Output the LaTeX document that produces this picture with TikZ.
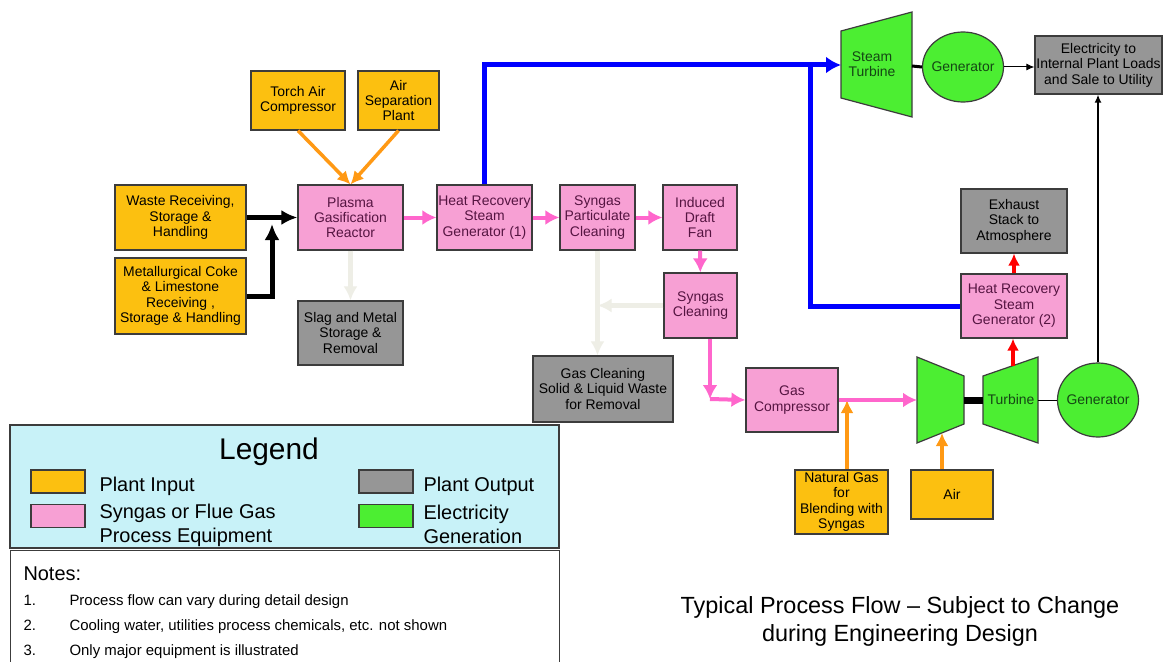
\documentclass[tikz,border=0pt]{standalone}
\usepackage{fontspec}
\setmainfont{Liberation Sans}
\usetikzlibrary{arrows.meta,shapes}

\definecolor{inputc}{RGB}{252,192,16}
\definecolor{gasc}{RGB}{247,160,212}
\definecolor{outc}{RGB}{150,150,150}
\definecolor{elecc}{RGB}{76,238,50}
\definecolor{pinkline}{RGB}{255,102,204}
\definecolor{orangeline}{RGB}{255,153,20}
\definecolor{fadeline}{RGB}{238,238,230}
\definecolor{legendc}{RGB}{200,242,248}
\definecolor{boxedge}{RGB}{60,60,60}
\definecolor{gastext}{RGB}{85,20,65}
\definecolor{electext}{RGB}{20,70,20}

\begin{document}
\begin{tikzpicture}[>={Latex[length=14bp,width=14bp]},join=miter,x=1bp,y=-1bp]
 \tikzstyle{every node}=[font=\fontsize{14}{15.5}\selectfont]
 \tikzstyle{plantbox}=[draw=boxedge,line width=1.2bp,align=center,inner sep=1bp]
 \tikzstyle{inbox}=[plantbox,fill=inputc]
 \tikzstyle{gasbox}=[plantbox,fill=gasc,text=gastext]
 \tikzstyle{outbox}=[plantbox,fill=outc]
 \tikzstyle{genbox}=[plantbox,ellipse,fill=elecc,text=electext,inner xsep=-4bp,inner ysep=0bp]
 \tikzstyle{machine}=[draw=boxedge,line width=1.2bp,fill=elecc]
 \tikzstyle{steam}=[blue,line width=5bp,>={Latex[length=15bp,width=17bp]}]
 \tikzstyle{syngas}=[pinkline,line width=4bp,>={Latex[length=14bp,width=15bp]}]
 \tikzstyle{feed}=[orangeline,line width=3.5bp,>={Latex[length=13bp,width=13bp]}]
 \tikzstyle{charge}=[black,line width=5bp,>={Latex[length=16bp,width=15bp]}]
 \tikzstyle{flue}=[red,line width=4bp,>={Latex[length=12bp,width=12bp]}]
 \tikzstyle{residue}=[fadeline,line width=4.5bp]
 \tikzstyle{wire}=[black,>={Latex[length=8bp,width=7bp]}]

 \fill[white] (0,0) rectangle (1166,662);
 \useasboundingbox (0,0) rectangle (1166,662);

 % plant inputs
 \node (torch) at (298,100.5) [inbox,minimum width=94bp,minimum height=59bp] {Torch Air\\Compressor};
 \node (airsep) at (398.5,100.5) [inbox,minimum width=81bp,minimum height=59bp] {Air\\Separation\\Plant};
 \node (waste) at (180.5,217.5) [inbox,minimum width=131bp,minimum height=65bp] {Waste Receiving,\\Storage \&\\Handling};
 \node (coke) at (180.5,296) [inbox,minimum width=131bp,minimum height=76bp] {Metallurgical Coke\\\& Limestone\\Receiving ,\\Storage \& Handling};
 \node (ngas) at (841.5,502) [inbox,minimum width=93bp,minimum height=64bp] {Natural Gas\\for\\Blending with\\Syngas};
 \node (air) at (952,494.5) [inbox,minimum width=82bp,minimum height=49bp] {Air};

 % gas train
 \node (plasma) at (350.5,217.5) [gasbox,minimum width=105bp,minimum height=65bp] {Plasma\\Gasification\\Reactor};
 \node (hrsg1) at (484.5,217.5) [gasbox,minimum width=95bp,minimum height=65bp] {Heat Recovery\\Steam\\Generator (1)};
 \node (spc) at (597.5,217.5) [gasbox,minimum width=75bp,minimum height=65bp] {Syngas\\Particulate\\Cleaning};
 \node (idf) at (700,217.5) [gasbox,minimum width=74bp,minimum height=65bp] {Induced\\Draft\\Fan};
 \node (sclean) at (700.5,305.5) [gasbox,minimum width=73bp,minimum height=65bp] {Syngas\\Cleaning};
 \node (gcomp) at (792,400) [gasbox,minimum width=92bp,minimum height=64bp] {Gas\\Compressor};
 \node (hrsg2) at (1014,306) [gasbox,minimum width=106bp,minimum height=64bp] {Heat Recovery\\Steam\\Generator (2)};

 % plant outputs
 \node (slag) at (350.5,333) [outbox,minimum width=105bp,minimum height=64bp] {Slag and Metal\\Storage \&\\Removal};
 \node (gcw) at (603,389) [outbox,minimum width=140bp,minimum height=66bp] {Gas Cleaning\\Solid \& Liquid Waste\\for Removal};
 \node (exhaust) at (1014,221) [outbox,minimum width=106bp,minimum height=64bp] {Exhaust\\Stack to\\Atmosphere};
 \node (elec) at (1098.5,65) [outbox,minimum width=127bp,minimum height=58bp] {Electricity to\\Internal Plant Loads\\and Sale to Utility};

 % turbines and generators
 \filldraw[machine] (841,31) -- (912,12) -- (912,117) -- (841,98) -- cycle;
 \node (stturb) at (872,64) [align=center,text=electext] {Steam\\Turbine};
 \coordinate (stin) at (841,65);
 \coordinate (stout) at (912,66);
 \node (gen1) at (963,67) [genbox,minimum width=81bp,minimum height=70bp] {Generator};

 \filldraw[machine] (917,357) -- (964,376) -- (964,424) -- (917,443) -- cycle;
 \filldraw[machine] (983,376) -- (1038,357) -- (1038,443) -- (983,424) -- cycle;
 \node (gturb) at (1011,400) [text=electext] {Turbine};
 \coordinate (compin) at (917,400);
 \coordinate (compout) at (964,400);
 \coordinate (compbot) at (942,433);
 \coordinate (turbin) at (983,400);
 \coordinate (turbout) at (1038,400);
 \coordinate (turbtop) at (1013,366);
 \node (gen2) at (1098,400) [genbox,minimum width=81bp,minimum height=74bp] {Generator};

 \coordinate (cokejoin) at (272,224);
 \coordinate (split) at (810,65);
 \coordinate (sgbend) at (710,399);
 \coordinate (ngjoin) at (847,400);

 \draw [charge,->] (waste) to (plasma);
 \draw [charge,->] (coke.east) -| (cokejoin);
 \draw [feed,->] (torch.south) to (plasma.north);
 \draw [feed,->] (airsep.south) to (plasma.north);
 \draw [feed,->] (ngas.north -| ngjoin) -- (ngjoin);
 \draw [feed,->] (air.north -| compbot) -- (compbot);

 \draw [syngas,->] (plasma) to (hrsg1);
 \draw [syngas,->] (hrsg1) to (spc);
 \draw [syngas,->] (spc) to (idf);
 \draw [syngas,->] (idf) to (sclean);
 \draw [syngas,->] (sclean.south -| sgbend) -- (sgbend);
 \draw [syngas,->] (sgbend) -- (gcomp.west);
 \draw [syngas,->] (gcomp.east) -- (compin);

 \draw [residue,->] (plasma) to (slag);
 \draw [residue,->] (spc.south) -- (spc.south |- gcw.north);
 \draw [residue,->] (sclean.west) -- (sclean.west -| spc.south);

 \draw [steam,->] (hrsg1.north) |- (stin);
 \draw [steam] (split) |- (hrsg2.west);
 \draw [flue,->] (turbtop) -- (turbtop |- hrsg2.south);
 \draw [flue,->] (hrsg2) to (exhaust);

 \draw [line width=3bp] (stout) -- (gen1.west);
 \draw [line width=7bp] (compout) -- (turbin);
 \draw [line width=1bp] (turbout) -- (gen2.west);
 \draw [wire,->,line width=1bp] (gen1.east) -- (gen1.east -| elec.west);
 \draw [wire,->,line width=2bp] (gen2.north) -- (gen2.north |- elec.south);

 % legend and notes
 \draw [draw=boxedge,fill=legendc,line width=1.2bp] (10,425) rectangle (559,548);
 \node (legend) at (269,452) [font=\fontsize{30}{30}\selectfont] {Legend};
 \node (keyin) at (58,481.5) [inbox,minimum width=54bp,minimum height=23bp] {};
 \node (keygas) at (58,516) [gasbox,minimum width=54bp,minimum height=23bp] {};
 \node (keyout) at (386,481.5) [outbox,minimum width=54bp,minimum height=23bp] {};
 \node (keyelec) at (386,516) [plantbox,fill=elecc,minimum width=54bp,minimum height=23bp] {};
 \node (keyintxt) at (96,486) [anchor=west,font=\fontsize{20}{24}\selectfont] {Plant Input};
 \node (keygastxt) at (96,525) [anchor=west,align=left,font=\fontsize{20}{24}\selectfont] {Syngas or Flue Gas\\Process Equipment};
 \node (keyouttxt) at (420,486) [anchor=west,font=\fontsize{20}{24}\selectfont] {Plant Output};
 \node (keyelectxt) at (420,524) [anchor=west,align=left,font=\fontsize{20}{24}\selectfont] {Electricity\\Generation};

 \draw [draw=boxedge,fill=white,line width=1bp] (10,662) |- (559,550) -- (559,662);
 \node (notes) at (20,580) [anchor=base west,font=\fontsize{20}{24}\selectfont] {Notes:};
 \node (note1) at (20,605) [anchor=base west,font=\fontsize{15}{18}\selectfont] {\makebox[46bp][l]{1.}Process flow can vary during detail design};
 \node (note2) at (20,630) [anchor=base west,font=\fontsize{15}{18}\selectfont] {\makebox[46bp][l]{2.}Cooling water, utilities process chemicals, etc. not shown};
 \node (note3) at (20,655) [anchor=base west,font=\fontsize{15}{18}\selectfont] {\makebox[46bp][l]{3.}Only major equipment is illustrated};

 \node (title) at (900,621) [align=center,font=\fontsize{23.5}{28}\selectfont] {Typical Process Flow \textendash{} Subject to Change\\during Engineering Design};
\end{tikzpicture}
\end{document}
